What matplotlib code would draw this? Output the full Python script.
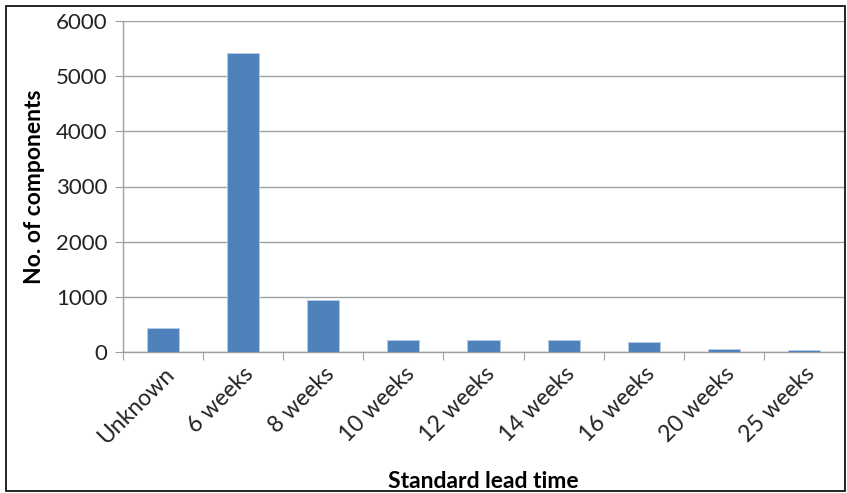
import matplotlib
matplotlib.use("Agg")
import matplotlib.pyplot as plt
from matplotlib.patches import Rectangle

categories = ["Unknown", "6 weeks", "8 weeks", "10 weeks", "12 weeks",
              "14 weeks", "16 weeks", "20 weeks", "25 weeks"]
values = [435, 5420, 940, 215, 215, 215, 175, 48, 28]
yticks = [0, 1000, 2000, 3000, 4000, 5000, 6000]

plt.rcParams['font.family'] = ['Lato', 'DejaVu Sans']

fig = plt.figure(figsize=(8.47, 4.93), dpi=100)
ax = fig.add_axes([123/847, 1-352/493, (844-123)/847, (352-21)/493])

x = list(range(len(categories)))
ax.bar(x, values, width=0.4, color="#4F81BD", edgecolor="#B9CDE5", linewidth=0.6, zorder=3)

ax.set_xlim(-0.5, len(categories) - 0.5)
ax.set_ylim(0, 6000)
ax.set_yticks(yticks)
ax.set_yticklabels([str(v) for v in yticks], fontsize=16, color="#222222")
ax.yaxis.grid(True, color="#A0A0A0", linewidth=1.0, zorder=0)

ax.set_xticks([i - 0.5 for i in range(len(categories) + 1)], minor=False)
ax.set_xticklabels([])
ax.set_xticks(x, minor=True)
ax.set_xticklabels(categories, minor=True, rotation=45, ha="right",
                   rotation_mode="anchor", fontsize=16.5, color="#222222")
ax.tick_params(axis="x", which="minor", length=0, pad=8)
ax.tick_params(axis="x", which="major", length=6, color="#A0A0A0", direction="out")
ax.tick_params(axis="y", length=6, color="#A0A0A0", direction="out", pad=5)

for s in ["top", "right"]:
    ax.spines[s].set_visible(False)
for s in ["left", "bottom"]:
    ax.spines[s].set_color("#A0A0A0")
    ax.spines[s].set_linewidth(1.0)

ax.set_ylabel("No. of components", fontsize=16.5, fontweight="bold", labelpad=8)
fig.text((123 + 844) / 2 / 847, 1 - 481/493, "Standard lead time", fontsize=16.5,
         fontweight="bold", ha="center", va="center")

fig.patches.append(Rectangle((6/847, 1-491/493), (845-6)/847, (491-6)/493,
                             transform=fig.transFigure, fill=False,
                             edgecolor="black", linewidth=1.2))

fig.savefig("out.png", dpi=100)
